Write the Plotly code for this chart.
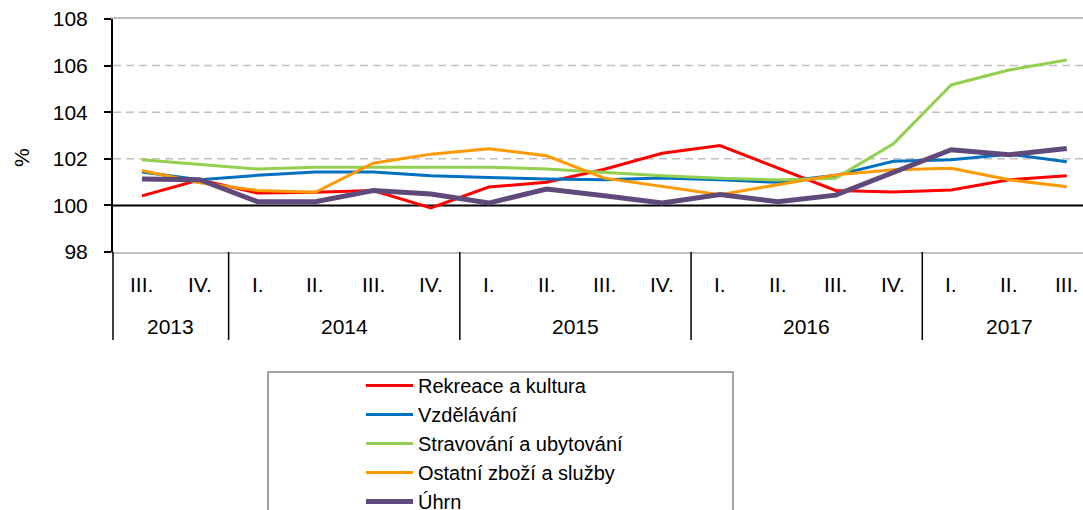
import plotly.graph_objects as go

# ---- data ----
quarters = ["III.", "IV.", "I.", "II.", "III.", "IV.", "I.", "II.", "III.", "IV.",
            "I.", "II.", "III.", "IV.", "I.", "II.", "III."]
years = ["2013"] * 2 + ["2014"] * 4 + ["2015"] * 4 + ["2016"] * 4 + ["2017"] * 3

rekreace = [100.41, 101.10, 100.53, 100.56, 100.64, 99.89, 100.79, 100.99, 101.55,
            102.24, 102.57, 101.61, 100.64, 100.57, 100.66, 101.10, 101.27]
vzdelavani = [101.43, 101.10, 101.29, 101.43, 101.43, 101.27, 101.20, 101.13, 101.10,
              101.18, 101.10, 100.99, 101.29, 101.89, 101.96, 102.20, 101.87]
stravovani = [101.96, 101.77, 101.56, 101.64, 101.64, 101.64, 101.64, 101.56, 101.41,
              101.27, 101.17, 101.09, 101.17, 102.64, 105.17, 105.81, 106.24]
ostatni = [101.50, 100.97, 100.64, 100.56, 101.81, 102.20, 102.43, 102.13, 101.17,
           100.81, 100.46, 100.89, 101.31, 101.53, 101.59, 101.10, 100.80]
uhrn = [101.13, 101.10, 100.16, 100.16, 100.64, 100.49, 100.10, 100.70, 100.41,
        100.10, 100.47, 100.16, 100.44, 101.39, 102.39, 102.17, 102.44]

series_names = ["Rekreace a kultura", "Vzdělávání", "Stravování a ubytování",
                "Ostatní zboží a služby", "Úhrn"]
series_values = [rekreace, vzdelavani, stravovani, ostatni, uhrn]
series_colors = ["#FF0000", "#0070C0", "#92D050", "#FF9900", "#604A7B"]
series_widths = [3, 3, 3, 3, 5]

y_ticks = [98, 100, 102, 104, 106, 108]
y_dashed = [102, 104, 106]
y_base = 100

# ---- figure geometry ----
W, H = 1083, 510
M_L, M_R, M_T, M_B = 113, 0, 19, 258
PLOT_H = H - M_T - M_B
PLOT_W = W - M_L - M_R
X_RANGE = [-0.5, 16.28]
FONT = "Arial, 'Liberation Sans', sans-serif"
FS = 21

x_cats = [f"{y} {q}" for y, q in zip(years, quarters)]

fig = go.Figure()
for name, vals, col, w in zip(series_names, series_values, series_colors, series_widths):
    fig.add_trace(go.Scatter(x=x_cats, y=vals, mode="lines", name=name,
                             line=dict(color=col, width=w)))

def px_below(p):
    return -p / PLOT_H

def x_paper(v):
    return (v - X_RANGE[0]) / (X_RANGE[1] - X_RANGE[0])

shapes = []
annotations = []

# dashed grid lines
for g in y_dashed:
    shapes.append(dict(type="line", xref="paper", yref="y", x0=0, x1=1, y0=g, y1=g,
                       line=dict(color="#C0C0C0", width=1.5, dash="8px,5px"), layer="below"))
# horizontal axis line at 100
shapes.append(dict(type="line", xref="paper", yref="y", x0=0, x1=1, y0=y_base, y1=y_base,
                   line=dict(color="black", width=2), layer="below"))

# year group dividers
bounds = [-0.5]
for i in range(1, len(years)):
    if years[i] != years[i - 1]:
        bounds.append(i - 0.5)
for b in bounds:
    shapes.append(dict(type="line", xref="paper", yref="paper",
                       x0=x_paper(b), x1=x_paper(b), y0=0, y1=px_below(88),
                       line=dict(color="black", width=1.5)))

# quarter labels
for i, q in enumerate(quarters):
    annotations.append(dict(x=i, y=0, xref="x", yref="paper", text=q, showarrow=False,
                            xanchor="center", yanchor="middle", yshift=-32,
                            font=dict(size=FS, color="black", family=FONT)))
# year labels
groups = {}
for i, y in enumerate(years):
    groups.setdefault(y, []).append(i)
for y, idx in groups.items():
    annotations.append(dict(x=sum(idx) / len(idx), y=0, xref="x", yref="paper", text=y,
                            showarrow=False, xanchor="center", yanchor="middle", yshift=-74,
                            font=dict(size=FS, color="black", family=FONT)))

# y axis title
annotations.append(dict(x=(21 - M_L) / PLOT_W, y=1 - (158 - M_T) / PLOT_H,
                        xref="paper", yref="paper", text="%", showarrow=False,
                        textangle=-90, xanchor="center", yanchor="middle",
                        font=dict(size=FS, color="black", family=FONT)))

# legend frame
shapes.append(dict(type="rect", xref="paper", yref="paper",
                   x0=(268 - M_L) / PLOT_W, x1=(733 - M_L) / PLOT_W,
                   y0=px_below(372 - (M_T + PLOT_H)), y1=px_below(560 - (M_T + PLOT_H)),
                   line=dict(color="#868686", width=1.5), fillcolor="rgba(0,0,0,0)"))

fig.update_layout(
    width=W, height=H,
    margin=dict(l=M_L, r=M_R, t=M_T, b=M_B, autoexpand=False),
    paper_bgcolor="white", plot_bgcolor="white",
    font=dict(family=FONT, size=FS, color="black"),
    showlegend=True,
    legend=dict(x=(361 - M_L) / PLOT_W, y=px_below(366 - (M_T + PLOT_H)),
                xanchor="left", yanchor="top", bgcolor="rgba(0,0,0,0)", borderwidth=0,
                font=dict(size=20, color="black", family=FONT), tracegroupgap=0,
                itemwidth=47),
    xaxis=dict(type="category", range=X_RANGE, showticklabels=False, showgrid=False,
               zeroline=False, showline=True, linecolor="#C0C0C0", linewidth=1.5,
               mirror=True, ticks="", fixedrange=True),
    yaxis=dict(range=[98, 108], tickvals=y_ticks, ticktext=[str(v) for v in y_ticks],
               showgrid=False, zeroline=False, showline=True, linecolor="black",
               linewidth=2, ticks="outside", ticklen=7, tickcolor="black", tickwidth=1.5,
               tickfont=dict(size=FS, color="black", family=FONT),
               ticklabelstandoff=12, fixedrange=True),
    shapes=shapes, annotations=annotations,
)

fig.write_html("out.html", config={"displayModeBar": False},
               post_script="document.body.style.margin='0px';")
